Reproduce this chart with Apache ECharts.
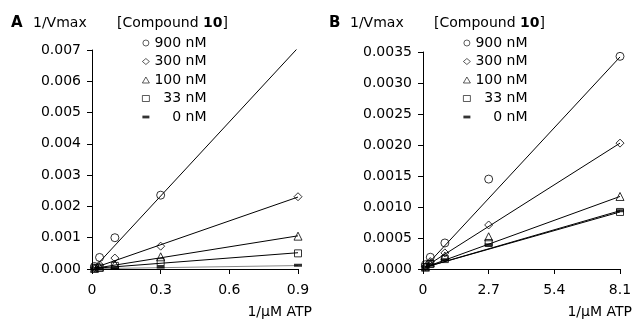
<!DOCTYPE html>
<html>
<head>
<meta charset="utf-8">
<script src="https://cdn.jsdelivr.net/npm/echarts@6/dist/echarts.min.js"></script>
<style>
  html, body { margin: 0; padding: 0; background: #fff; }
  #main { width: 637px; height: 320px; }
</style>
</head>
<body>
<div id="main"></div>
<script>
// 1/ATP concentrations (x)
const xA = [0.011, 0.033, 0.1, 0.3, 0.9]
const xB = [0.1, 0.3, 0.9, 2.7, 8.1]

// legend names, [Compound 10]
const concNames = ['900 nM', '300 nM', '100 nM', '\u200733 nM', '\u2007\u20070 nM']
const symbols = ['circle', 'diamond', 'triangle', 'rect', 'path://M0,0H10V4H0Z']
const symbolSizes = [8, 8, 8, 7, [8, 3]]

// panel A, 1/Vmax (900 nM point at 0.9 is off scale)
const a900 = [0.00008, 0.00037, 0.001, 0.00236]
const a300 = [0.00004, 0.00013, 0.00035, 0.00073, 0.00231]
const a100 = [0.00002, 0.00006, 0.00015, 0.00039, 0.00105]
const a33 = [0.00002, 0.00004, 0.0001, 0.00022, 0.0005]
const a0 = [0.00001, 0.00002, 0.00004, 0.00006, 0.00012]

// panel B, 1/Vmax
const b900 = [0.00007, 0.00019, 0.00042, 0.00145, 0.00343]
const b300 = [0.00004, 0.00012, 0.00026, 0.00071, 0.00203]
const b100 = [0.00003, 0.0001, 0.00021, 0.00052, 0.00117]
const b33 = [0.00003, 0.00008, 0.00016, 0.00042, 0.00092]
const b0 = [0.00003, 0.00007, 0.00015, 0.00039, 0.00094]

// fitted lines: value at first and last x
const fitAStart = [0.00005, 0.00004, 0.00002, 0.00002, 0.00001]
const fitAEnd = [0.00707, 0.0023, 0.00106, 0.00052, 0.00011]
const fitBStart = [0.00004, 0.00004, 0.00003, 0.00003, 0.00003]
const fitBEnd = [0.00342, 0.00203, 0.00117, 0.00092, 0.00094]

const xTicksA = { min: 0, max: 0.9, interval: 0.3 }
const xTicksB = { min: 0, max: 8.1, interval: 2.7 }
const yTicksA = { min: 0, max: 0.007, interval: 0.001 }
const yTicksB = { min: 0, max: 0.0035, interval: 0.0005 }

const FONT = 'DejaVu Sans'
const black = '#000'

const axisCommon = {
  axisLine: { show: true, onZero: false, lineStyle: { color: black, width: 1 } },
  axisTick: { show: true, inside: false, length: 5, lineStyle: { color: black } },
  splitLine: { show: false },
}

const xAxis = (i, t, fmt) => ({
  type: 'value', gridIndex: i, ...t, ...axisCommon,
  axisLabel: { margin: 14, color: black, fontFamily: FONT, fontSize: 14, formatter: fmt },
})
const yAxis = (i, t, fmt) => ({
  type: 'value', gridIndex: i, ...t, ...axisCommon,
  axisLabel: { margin: 11, color: black, fontFamily: FONT, fontSize: 14, formatter: fmt },
})

const series = []
const addPanel = (idx, xs, ys, starts, ends) => {
  ys.forEach((vals, i) => {
    series.push({
      type: 'line', xAxisIndex: idx, yAxisIndex: idx, silent: true,
      symbol: 'none', clip: true, z: 2,
      lineStyle: { color: (idx === 0 && i === 4) ? '#888' : black, width: 1 },
      data: [[xs[0], starts[i]], [xs[xs.length - 1], ends[i]]],
    })
    series.push({
      name: concNames[i], type: 'scatter', xAxisIndex: idx, yAxisIndex: idx,
      silent: true, clip: true, z: 3,
      symbol: symbols[i], symbolSize: symbolSizes[i],
      itemStyle: i === 4
        ? { color: black }
        : { color: 'rgba(255,255,255,0)', borderColor: black, borderWidth: 1 },
      data: vals.map((v, j) => [xs[j], v]),
    })
  })
}
addPanel(0, xA, [a900, a300, a100, a33, a0], fitAStart, fitAEnd)
addPanel(1, xB, [b900, b300, b100, b33, b0], fitBStart, fitBEnd)

const legend = (left) => ({
  left, top: 30, orient: 'vertical', selectedMode: false,
  itemWidth: 7, itemHeight: 6, itemGap: 2.5,
  itemStyle: { borderWidth: 0.8 },
  textStyle: { fontFamily: FONT, fontSize: 14, color: black, lineHeight: 16 },
  data: concNames,
})

const txt = (x, y, text, opts = {}) => ({
  type: 'text', x, y, silent: true,
  style: {
    text, fill: black, font: `14px "${FONT}"`, verticalAlign: 'middle',
    align: 'left', ...opts,
  },
})
const compound = (x) => txt(x, 23, '[Compound {b|10}]', {
  rich: { b: { fontFamily: FONT, fontSize: 14, fontWeight: 'bold', fill: black } },
})

const chart = echarts.init(document.getElementById('main'), null, { renderer: 'canvas' })
chart.setOption({
  animation: false,
  backgroundColor: '#fff',
  grid: [
    { left: 92, top: 50, width: 206, height: 219 },
    { left: 423, top: 52, width: 197, height: 217 },
  ],
  xAxis: [
    xAxis(0, xTicksA, (v) => v === 0 ? '0' : v.toFixed(1)),
    xAxis(1, xTicksB, (v) => v === 0 ? '0' : v.toFixed(1)),
  ],
  yAxis: [
    yAxis(0, yTicksA, (v) => v.toFixed(3)),
    yAxis(1, yTicksB, (v) => v.toFixed(4)),
  ],
  legend: [legend(137), legend(458)],
  series,
  graphic: [
    txt(11, 23, 'A', { font: `bold 15px "${FONT}"` }),
    txt(33, 23, '1/Vmax'),
    compound(117),
    txt(312, 312, '1/μM ATP', { align: 'right' }),
    txt(329, 23, 'B', { font: `bold 15px "${FONT}"` }),
    txt(350, 23, '1/Vmax'),
    compound(434),
    txt(632, 312, '1/μM ATP', { align: 'right' }),
  ],
})
</script>
</body>
</html>
